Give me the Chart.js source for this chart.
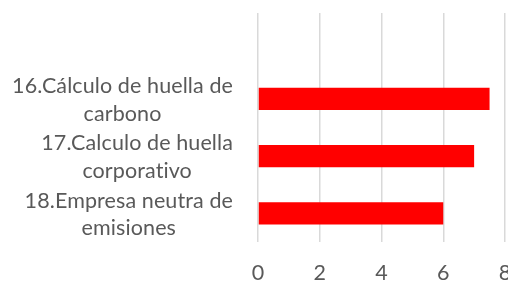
<!DOCTYPE html>
<html>
<head>
<meta charset="utf-8">
<script src="https://cdn.jsdelivr.net/npm/chart.js@4/dist/chart.umd.min.js"></script>
<style>
    body { margin: 0; background: #ffffff; }
    #chart { display: block; }
</style>
</head>
<body>
<canvas id="chart" width="508" height="282"></canvas>
<script>
// Categories (top one is empty in the original sheet)
const categories = [
    [''],
    ['16.Cálculo de huella de', 'carbono'],
    ['17.Calculo de huella', 'corporativo'],
    ['18.Empresa neutra de', 'emisiones']
];
const values = [null, 7.5, 7, 6];
const xTicks = [0, 2, 4, 6, 8];

const FONT = 'Lato, "Open Sans", sans-serif';
const TEXT_COLOR = '#595959';

// Draws the category labels Excel-style: each block centered on itself, block right aligned
const categoryLabels = {
    id: 'categoryLabels',
    afterDraw(chart) {
        const ctx = chart.ctx;
        const yScale = chart.scales.y;
        const rightEdge = yScale.right - 25;
        const lineHeight = 27.5;
        ctx.save();
        ctx.font = '21.5px ' + FONT;
        ctx.letterSpacing = '0.1px'; // avoids the "ti" ligature
        ctx.fillStyle = TEXT_COLOR;
        ctx.textAlign = 'center';
        ctx.textBaseline = 'middle';
        categories.forEach(function(lines, i) {
            const widest = Math.max.apply(null, lines.map(l => ctx.measureText(l).width));
            const cx = rightEdge - widest / 2;
            const cy = yScale.getPixelForTick(i) + 1;
            const top = cy - (lines.length - 1) * lineHeight / 2;
            lines.forEach(function(line, j) {
                ctx.fillText(line, cx, top + j * lineHeight);
            });
        });
        ctx.restore();
    }
};

document.addEventListener('DOMContentLoaded', function() {
    const ctx = document.getElementById('chart').getContext('2d');
    new Chart(ctx, {
        type: 'bar',
        data: {
            labels: categories,
            datasets: [{
                data: values,
                backgroundColor: '#ff0000',
                borderWidth: 0,
                categoryPercentage: 1,
                barPercentage: 0.39
            }]
        },
        options: {
            indexAxis: 'y',
            responsive: false,
            animation: false,
            layout: { padding: { top: 13, right: 3, left: 0, bottom: 0 } },
            plugins: {
                legend: { display: false },
                tooltip: { enabled: false }
            },
            scales: {
                x: {
                    min: 0,
                    max: 8,
                    afterBuildTicks: function(scale) {
                        scale.ticks = xTicks.map(v => ({ value: v }));
                    },
                    afterFit: function(scale) {
                        scale.height = 40;
                        scale.paddingLeft = 0;
                        scale.paddingRight = 0;
                    },
                    grid: {
                        color: '#d9d9d9',
                        lineWidth: 1.5,
                        drawTicks: false
                    },
                    border: { display: false },
                    ticks: {
                        color: TEXT_COLOR,
                        font: { family: FONT, size: 21.5 },
                        padding: 18,
                        maxRotation: 0
                    }
                },
                y: {
                    afterFit: function(scale) {
                        scale.width = 258;
                    },
                    grid: { display: false },
                    border: { display: false },
                    ticks: { display: false }
                }
            }
        },
        plugins: [categoryLabels]
    });
});
</script>
</body>
</html>
